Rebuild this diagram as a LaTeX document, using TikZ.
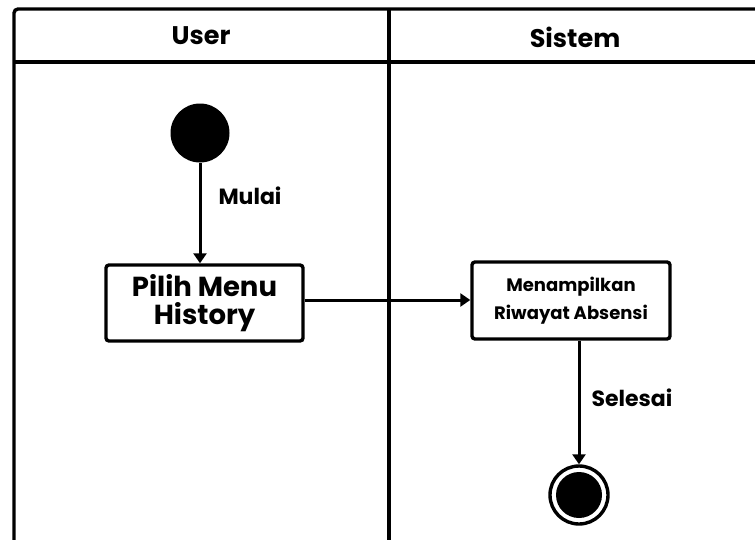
\documentclass[tikz,border=0pt]{standalone}
\usepackage{fontspec}
\setmainfont{Poppins}
\usetikzlibrary{arrows.meta}
\begin{document}
\begin{tikzpicture}[x=1pt,y=-1pt,
  lane/.style={line width=3.4pt},
  action/.style={draw,line width=3.4pt,rounded corners=3pt,align=center,inner sep=0pt},
  flow/.style={line width=3pt,-{Triangle[length=10pt,width=13pt]}},
  lbl/.style={font=\bfseries\fontsize{22}{24}\selectfont}]
\useasboundingbox (0,0) rectangle (755,539);
\begin{scope}
  \clip (0,0) rectangle (755,539);
  % swimlane frame
  \draw[lane,rounded corners=4pt] (14,9) rectangle (780,580);
  \draw[lane] (14,62) -- (780,62);
  \draw[lane] (389,9) -- (389,580);
\end{scope}
\node[font=\bfseries\fontsize{25.5}{28}\selectfont] (huser) at (201,36) {User};
\node[font=\bfseries\fontsize{25.5}{28}\selectfont] (hsys) at (575,37) {Sistem};

% start
\node[circle,fill=black,minimum size=59pt,inner sep=0pt] (start) at (200,133) {};
% actions
\node[action,minimum width=197pt,minimum height=76pt,font=\bfseries\fontsize{27.5}{28}\selectfont] (pilih) at (204.5,303) {Pilih Menu\\History};
\node[action,minimum width=198pt,minimum height=77pt,font=\bfseries\fontsize{18}{28}\selectfont] (tampil) at (571,300.5) {Menampilkan\\Riwayat Absensi};
% end
\node[circle,draw,line width=3.4pt,minimum size=58pt,inner sep=0pt] (end) at (579,495) {};
\node[circle,fill=black,minimum size=46pt,inner sep=0pt] (endin) at (end) {};

\draw[flow] (start) -- (pilih.north -| start);
\draw[flow] (pilih.east |- 0,300) -- (tampil.west |- 0,300);
\draw[flow] (tampil.south -| end) -- (end);

\node[lbl,anchor=west] (mulai) at (215,196) {Mulai};
\node[lbl,anchor=west] (selesai) at (588,398) {Selesai};
\end{tikzpicture}
\end{document}
